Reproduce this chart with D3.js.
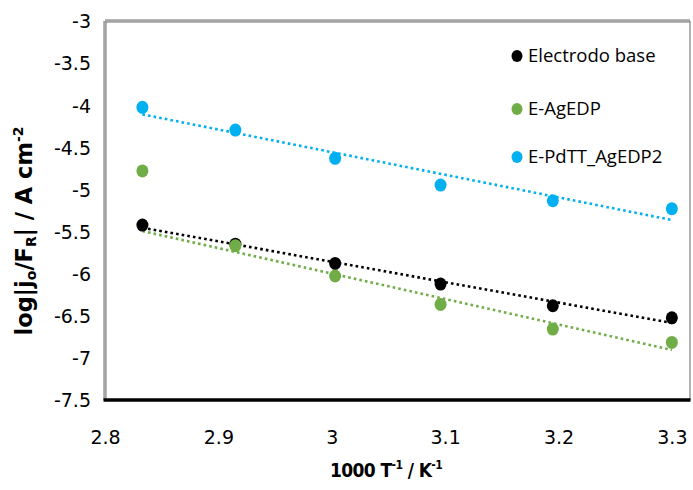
<!DOCTYPE html>
<html><head><meta charset="utf-8">
<script src="https://cdn.jsdelivr.net/npm/d3@7"></script>
<style>body{margin:0;background:#fff;} svg{display:block;}</style>
</head><body>
<svg id="c" width="693" height="490"></svg>
<script>
// ---- data ----
const xValues = [2.833, 2.915, 3.003, 3.096, 3.195, 3.300];
const seriesNames = ["Electrodo base", "E-AgEDP", "E-PdTT_AgEDP2"];
const electrodoBase = [-5.423, -5.65, -5.878, -6.124, -6.381, -6.524];
const eAgEDP = [-4.78, -5.668, -6.028, -6.365, -6.658, -6.816];
const ePdTTAgEDP2 = [-4.025, -4.295, -4.63, -4.948, -5.134, -5.229];
const fitFromIndex = [0, 1, 0]; // first point used in each series' linear trendline
const seriesColors = ["#000000", "#70AD47", "#00B0F0"];
const xTicks = [2.8, 2.9, 3.0, 3.1, 3.2, 3.3];
const yTicks = [-3, -3.5, -4, -4.5, -5, -5.5, -6, -6.5, -7, -7.5];

const series = [electrodoBase, eAgEDP, ePdTTAgEDP2].map((v, i) => ({
  name: seriesNames[i], color: seriesColors[i], values: v, fitFrom: fitFromIndex[i]
}));

const svg = d3.select("#c");
const L = 105, R = 690, T = 21, B = 400;
const x = d3.scaleLinear().domain([2.8, 3.316]).range([L, R]);
const y = d3.scaleLinear().domain([-7.5, -3]).range([B, T]);

const tickFont = "'DejaVu Sans', Verdana, sans-serif";

// frame
svg.append("line").attr("x1", L).attr("x2", L).attr("y1", T).attr("y2", B)
  .attr("stroke", "#707070").attr("stroke-width", 3);
svg.append("line").attr("x1", L).attr("x2", L).attr("y1", T).attr("y2", B)
  .attr("stroke", "#d8d8d8").attr("stroke-width", 1);
svg.append("line").attr("x1", L).attr("x2", R).attr("y1", T).attr("y2", T)
  .attr("stroke", "#707070").attr("stroke-width", 3);
svg.append("line").attr("x1", L).attr("x2", R).attr("y1", T).attr("y2", T)
  .attr("stroke", "#d8d8d8").attr("stroke-width", 1);
svg.append("line").attr("x1", R).attr("x2", R).attr("y1", T).attr("y2", B)
  .attr("stroke", "#808080").attr("stroke-width", 1.2);
svg.append("line").attr("x1", L - 1.5).attr("x2", R + 0.5).attr("y1", B).attr("y2", B)
  .attr("stroke", "#000").attr("stroke-width", 3.5);

// axes (labels only)
const xAxis = d3.axisBottom(x).tickValues(xTicks).tickSize(0).tickPadding(0)
  .tickFormat(d => d3.format("")(+d.toFixed(1)));
const gx = svg.append("g").attr("transform", `translate(0,${B})`).call(xAxis);
gx.select(".domain").remove();
gx.selectAll("text").attr("y", 44).attr("dy", null)
  .attr("font-family", tickFont).attr("font-size", 19).attr("fill", "#000");

const yAxis = d3.axisLeft(y).tickValues(yTicks).tickSize(0).tickPadding(0)
  .tickFormat(d => String(d));
const gy = svg.append("g").attr("transform", `translate(${L},0)`).call(yAxis);
gy.select(".domain").remove();
gy.selectAll("text").attr("x", -14).attr("dy", "0.36em")
  .attr("font-family", tickFont).attr("font-size", 19).attr("fill", "#000");

// trendlines (least squares)
function fit(xs, ys) {
  const mx = d3.mean(xs), my = d3.mean(ys);
  const num = d3.sum(xs, (d, i) => (d - mx) * (ys[i] - my));
  const den = d3.sum(xs, d => (d - mx) * (d - mx));
  const b = num / den; return { a: my - b * mx, b };
}
const line = d3.line().x(d => x(d[0])).y(d => y(d[1]));
series.forEach(s => {
  const xs = xValues.slice(s.fitFrom), ys = s.values.slice(s.fitFrom);
  const f = fit(xs, ys);
  const x0 = xValues[0], x1 = xValues[xValues.length - 1];
  svg.append("path").datum([[x0, f.a + f.b * x0], [x1, f.a + f.b * x1]])
    .attr("d", line).attr("fill", "none").attr("stroke", s.color)
    .attr("stroke-width", 2.6).attr("stroke-dasharray", "2.6,3.1");
});

// markers
series.forEach(s => {
  svg.append("g").selectAll("ellipse").data(s.values).join("ellipse")
    .attr("cx", (d, i) => x(xValues[i])).attr("cy", d => y(d))
    .attr("rx", 6).attr("ry", 6.5).attr("fill", s.color);
});

// legend
const legY = [56, 109, 157];
const leg = svg.append("g");
series.forEach((s, i) => {
  leg.append("ellipse").attr("cx", 517).attr("cy", legY[i]).attr("rx", 5.5).attr("ry", 6).attr("fill", s.color);
  leg.append("text").attr("x", 528).attr("y", legY[i]).attr("dy", "0.35em")
    .attr("font-family", "'Open Sans', sans-serif").attr("font-size", 18.5).attr("fill", "#000")
    .text(s.name);
});

// axis titles
const xt = svg.append("text").attr("x", 386).attr("y", 477).attr("text-anchor", "middle")
  .attr("font-family", "'DejaVu Sans Condensed', 'DejaVu Sans', sans-serif")
  .attr("font-weight", "bold").attr("font-size", 19).attr("letter-spacing", -0.6).attr("fill", "#000");
xt.append("tspan").text("1000 T");
xt.append("tspan").attr("dy", -8).attr("font-size", 12).text("-1");
xt.append("tspan").attr("dy", 8).text(" / K");
xt.append("tspan").attr("dy", -8).attr("font-size", 12).text("-1");

const yt = svg.append("text").attr("transform", "translate(32,231) rotate(-90)")
  .attr("text-anchor", "middle")
  .attr("font-family", "'DejaVu Sans', sans-serif").attr("font-weight", "bold")
  .attr("font-size", 22.5).attr("fill", "#000");
yt.append("tspan").text("log|j");
yt.append("tspan").attr("dy", 4).attr("font-size", 14).text("o");
yt.append("tspan").attr("dy", -4).text("/F");
yt.append("tspan").attr("dy", 4).attr("font-size", 14).text("R");
yt.append("tspan").attr("dy", -4).text("| / A cm");
yt.append("tspan").attr("dy", -9).attr("font-size", 14).text("-2");
</script>
</body></html>
